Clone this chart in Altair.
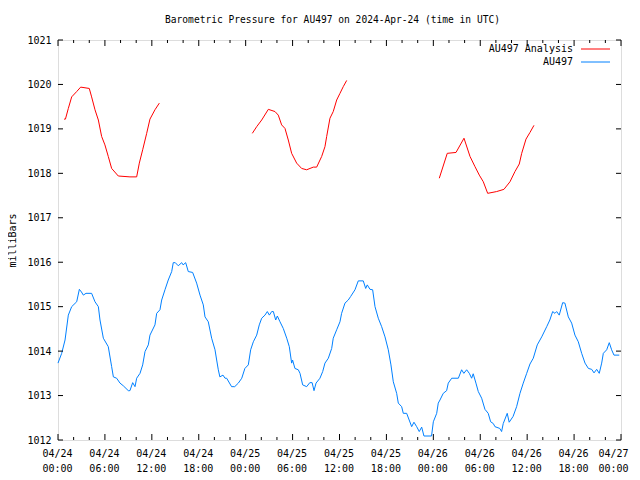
import altair as alt
import pandas as pd

# ---------------- data (hours since 2024-04-24 00:00 UTC, millibars) ----------------
blue_hours = [0.0, 0.47, 0.9, 1.32, 1.75, 2.39, 2.73, 3.0, 3.24, 3.58, 4.3, 4.73, 5.16, 5.37, 5.8,
              6.43, 6.86, 7.08, 7.5, 7.93, 8.35, 8.99, 9.2, 9.55, 9.85, 10.06, 10.49, 10.83, 11.13,
              11.55, 11.76, 12.4, 12.62, 13.04, 13.26, 13.68, 14.1, 14.54, 14.74, 15.0, 15.38, 15.82,
              16.0, 16.33, 16.66, 17.22, 17.73, 18.16, 18.58, 18.8, 19.22, 19.65, 20.08, 20.29, 20.5,
              20.7, 21.1, 21.36, 21.57, 22.2, 22.6, 23.06, 23.5, 23.9, 24.34, 24.64, 24.98, 25.41,
              25.74, 26.05, 26.47, 26.77, 27.03, 27.33, 27.54, 27.84, 28.05, 28.39, 28.81, 29.25,
              29.58, 29.88, 30.0, 30.3, 30.73, 30.95, 31.29, 31.8, 32.2, 32.5, 32.74, 33.0, 33.5,
              33.85, 34.14, 34.57, 35.0, 35.2, 35.64, 36.06, 36.27, 36.7, 37.12, 37.43, 37.98, 38.4,
              39.04, 39.35, 39.55, 39.9, 40.24, 40.54, 40.96, 41.39, 41.82, 42.24, 42.58, 42.88,
              43.31, 43.52, 43.95, 44.16, 44.59, 45.23, 45.52, 45.87, 46.2, 46.51, 46.8, 47.57,
              47.77, 48.0, 48.43, 48.63, 48.85, 49.27, 49.7, 49.91, 50.35, 51.2, 51.62, 51.9, 52.26,
              52.6, 52.9, 53.1, 53.45, 53.75, 54.18, 54.6, 55.02, 55.33, 55.67, 55.88, 56.5, 56.73,
              56.94, 57.45, 57.7, 58.2, 58.65, 59.08, 59.5, 59.94, 60.36, 60.78, 61.29, 61.86, 62.5,
              62.9, 63.26, 63.55, 63.77, 64.1, 64.54, 64.83, 65.26, 65.69, 66.11, 66.54, 66.97,
              67.4, 67.83, 68.25, 68.55, 68.89, 69.22, 69.53, 69.74, 70.17, 70.5, 70.8, 71.1, 71.78]
blue_mb = [1013.73, 1013.95, 1014.25, 1014.81, 1015.00, 1015.11, 1015.39, 1015.33, 1015.26, 1015.30,
           1015.30, 1015.11, 1015.00, 1014.70, 1014.29, 1014.10, 1013.65, 1013.42, 1013.39, 1013.28,
           1013.22, 1013.11, 1013.11, 1013.29, 1013.20, 1013.39, 1013.50, 1013.69, 1013.99, 1014.14,
           1014.36, 1014.59, 1014.85, 1014.93, 1015.15, 1015.38, 1015.60, 1015.79, 1015.99, 1015.99,
           1015.92, 1015.99, 1015.94, 1015.99, 1015.79, 1015.77, 1015.53, 1015.26, 1015.04, 1014.77,
           1014.66, 1014.29, 1014.03, 1013.80, 1013.58, 1013.42, 1013.46, 1013.39, 1013.39, 1013.20,
           1013.20, 1013.28, 1013.39, 1013.61, 1013.69, 1014.03, 1014.21, 1014.36, 1014.59, 1014.74,
           1014.81, 1014.89, 1014.81, 1014.89, 1014.89, 1014.70, 1014.79, 1014.66, 1014.51, 1014.29,
           1014.10, 1013.73, 1013.80, 1013.61, 1013.58, 1013.50, 1013.24, 1013.20, 1013.29, 1013.29,
           1013.11, 1013.28, 1013.39, 1013.54, 1013.73, 1013.84, 1014.06, 1014.29, 1014.48, 1014.66,
           1014.85, 1015.08, 1015.15, 1015.23, 1015.38, 1015.58, 1015.58, 1015.41, 1015.49, 1015.39,
           1015.38, 1015.00, 1014.74, 1014.55, 1014.32, 1014.03, 1013.69, 1013.31, 1013.05, 1012.83,
           1012.75, 1012.60, 1012.60, 1012.30, 1012.40, 1012.30, 1012.19, 1012.29, 1012.09, 1012.09,
           1012.09, 1012.41, 1012.60, 1012.83, 1012.90, 1013.05, 1013.11, 1013.28, 1013.39, 1013.39,
           1013.58, 1013.50, 1013.58, 1013.50, 1013.39, 1013.49, 1013.28, 1013.09, 1012.94, 1012.69,
           1012.60, 1012.41, 1012.37, 1012.30, 1012.26, 1012.19, 1012.37, 1012.60, 1012.40, 1012.53,
           1012.75, 1013.05, 1013.28, 1013.50, 1013.71, 1013.84, 1014.14, 1014.32, 1014.55, 1014.70,
           1014.89, 1014.85, 1014.89, 1014.81, 1015.09, 1015.08, 1014.77, 1014.63, 1014.36, 1014.21,
           1013.95, 1013.73, 1013.61, 1013.59, 1013.51, 1013.59, 1013.50, 1013.73, 1013.95, 1014.03,
           1014.19, 1014.03, 1013.91, 1013.91]

red_hours = [0.77, 0.95, 1.32, 1.75, 2.39, 2.9, 4.0, 4.3, 4.73, 5.16, 5.58, 6.0, 6.43, 6.86, 7.71,
             9.2, 10.06, 10.4, 10.83, 11.34, 11.76, 12.4, 12.96,
             24.85, 25.41, 26.05, 26.9, 27.75, 28.17, 28.6, 29.03, 29.45, 29.88, 30.52, 31.16, 31.8,
             32.65, 33.08, 33.72, 34.14, 34.36, 34.78, 35.2, 35.64, 36.06, 36.48, 36.92,
             48.76, 49.78, 50.9, 51.92, 52.69, 53.33, 53.88, 54.39, 54.95, 56.1, 57.03, 57.8, 58.44,
             58.99, 59.3, 59.85, 60.36, 60.87]
red_mb = [1019.22, 1019.22, 1019.46, 1019.72, 1019.84, 1019.94, 1019.91, 1019.72, 1019.43, 1019.20,
          1018.83, 1018.64, 1018.38, 1018.11, 1017.94, 1017.92, 1017.92, 1018.23, 1018.53, 1018.90,
          1019.22, 1019.43, 1019.58,
          1018.90, 1019.05, 1019.20, 1019.44, 1019.39, 1019.31, 1019.09, 1019.01, 1018.75, 1018.45,
          1018.23, 1018.11, 1018.08, 1018.14, 1018.14, 1018.38, 1018.60, 1018.83, 1019.24, 1019.39,
          1019.65, 1019.80, 1019.95, 1020.09,
          1017.89, 1018.45, 1018.47, 1018.79, 1018.38, 1018.15, 1017.96, 1017.81, 1017.55, 1017.59,
          1017.64, 1017.81, 1018.04, 1018.21, 1018.45, 1018.77, 1018.92, 1019.08]
red_segment = [1] * 23 + [2] * 24 + [3] * 18

series_names = ["AU497 Analysis", "AU497"]
series_colors = ["#ff0000", "#0080ff"]

y_ticks = [1012, 1013, 1014, 1015, 1016, 1017, 1018, 1019, 1020, 1021]
x_major_ticks = [0, 6, 12, 18, 24, 30, 36, 42, 48, 54, 60, 66, 72]
x_minor_ticks = [2, 4, 8, 10, 14, 16, 20, 22, 26, 28, 32, 34, 38, 40, 44, 46, 50, 52, 56, 58,
                 62, 64, 68, 70]

title_text = "Barometric Pressure for AU497 on 2024-Apr-24 (time in UTC)"
y_title = "milliBars"

# ---------------- chart ----------------
W, H = 563, 400
FONT = "DejaVu Sans Mono"

blue_df = pd.DataFrame({"hours": blue_hours, "mb": blue_mb})
red_df = pd.DataFrame({"hours": red_hours, "mb": red_mb, "seg": red_segment})

x_scale = alt.Scale(domain=[0, 72], nice=False, zero=False)
y_scale = alt.Scale(domain=[1012, 1021], nice=False, zero=False)

label_expr = ("['04/' + (24 + floor(datum.value / 24)), "
              "((datum.value % 24) < 10 ? '0' : '') + (datum.value % 24) + ':00']")

x_axis = alt.Axis(values=x_major_ticks, labelExpr=label_expr, title=None, grid=False,
                  domain=False, ticks=False, labelPadding=8, labelLineHeight=15,
                  labelBaseline="top", labelFont=FONT, labelFontSize=10, labelColor="black",
                  labelFlush=False, labelOverlap=False,
                  labelOffset={"condition": {"test": "datum.value >= 72", "value": -8},
                               "value": -1})
y_axis = alt.Axis(values=y_ticks, format="d", title=y_title, grid=False, domain=False,
                  ticks=False, labelPadding=7, labelFont=FONT, labelFontSize=10,
                  labelColor="black", titleFont=FONT, titleFontSize=10,
                  titleFontWeight="normal", titleColor="black", titleAngle=270,
                  titleX=-46, titleY=H / 2, titleAlign="center", titleBaseline="middle")

blue = alt.Chart(blue_df).mark_line(color=series_colors[1], strokeWidth=1).encode(
    x=alt.X("hours:Q", scale=x_scale, axis=x_axis),
    y=alt.Y("mb:Q", scale=y_scale, axis=y_axis),
)
red = alt.Chart(red_df).mark_line(color=series_colors[0], strokeWidth=1).encode(
    x=alt.X("hours:Q"),
    y=alt.Y("mb:Q"),
    detail="seg:N",
)

# inward ticks (mirrored on all four sides)
yt = pd.DataFrame({"mb": y_ticks})
xmaj = pd.DataFrame({"hours": x_major_ticks})
xmin = pd.DataFrame({"hours": x_minor_ticks})
tick_layers = [
    alt.Chart(yt).mark_rule(color="black", strokeWidth=1).encode(
        y=alt.Y("mb:Q"), x=alt.value(0), x2=alt.value(5)),
    alt.Chart(yt).mark_rule(color="black", strokeWidth=1).encode(
        y=alt.Y("mb:Q"), x=alt.value(W - 5), x2=alt.value(W)),
    alt.Chart(xmaj).mark_rule(color="black", strokeWidth=1).encode(
        x=alt.X("hours:Q"), y=alt.value(H - 6), y2=alt.value(H)),
    alt.Chart(xmaj).mark_rule(color="black", strokeWidth=1).encode(
        x=alt.X("hours:Q"), y=alt.value(0), y2=alt.value(6)),
    alt.Chart(xmin).mark_rule(color="black", strokeWidth=1).encode(
        x=alt.X("hours:Q"), y=alt.value(H - 3), y2=alt.value(H)),
    alt.Chart(xmin).mark_rule(color="black", strokeWidth=1).encode(
        x=alt.X("hours:Q"), y=alt.value(0), y2=alt.value(3)),
]

# legend (labels left of line samples, top right)
legend_layers = []
for i, (name, col) in enumerate(zip(series_names, series_colors)):
    ypix = 9 + 13 * i
    ldf = pd.DataFrame({"label": [name]})
    legend_layers.append(
        alt.Chart(ldf).mark_text(align="right", baseline="middle", font=FONT, fontSize=10,
                                 color="black").encode(
            text="label:N", x=alt.value(515), y=alt.value(ypix)))
    legend_layers.append(
        alt.Chart(ldf).mark_rule(color=col, strokeWidth=1).encode(
            x=alt.value(523), x2=alt.value(552), y=alt.value(ypix)))

chart = alt.layer(blue, red, *tick_layers, *legend_layers).properties(
    width=W, height=H,
    title=alt.TitleParams(title_text, font=FONT, fontSize=9.6, fontWeight="normal",
                          color="black", anchor="middle", dx=-7, offset=10),
    autosize=alt.AutoSizeParams(type="none"),
    padding={"left": 50, "top": 32, "right": 11, "bottom": 32},
).configure_view(stroke="black", strokeWidth=1).configure(background="white")

chart.save("out.html", embed_options={"renderer": "svg", "actions": False})
